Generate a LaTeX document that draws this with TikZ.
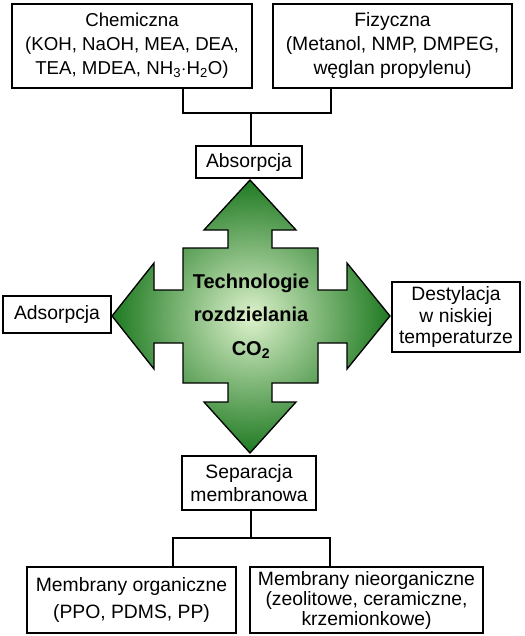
\documentclass[tikz,border=0pt]{standalone}
\usepackage{fontspec}
\setmainfont{Liberation Sans}
\usepackage{tikz}
\usetikzlibrary{positioning,calc}
\definecolor{crossdark}{HTML}{1F7A22}
\definecolor{crosslight}{HTML}{DDF2CC}

\begin{document}
\begin{tikzpicture}[
  x=0.75pt, y=-0.75pt,
  box/.style={draw=black, line width=1.5pt, fill=white, align=center, inner sep=0pt, font=\fontsize{14.5}{18}\selectfont},
  link/.style={draw=black, line width=1.5pt},
  core/.style={align=center, inner sep=0pt, font=\fontsize{15}{25}\selectfont\bfseries}
]
  \useasboundingbox (0,0) rectangle (525,636);

  % Central cross
  \path[draw=black, line width=1pt, shading=radial, inner color=crosslight, outer color=crossdark]
    (250,180) -- (296,230) -- (272,230) -- (272,248) -- (318,248) -- (318,290)
    -- (347,290) -- (347,263) -- (390,316) -- (347,369) -- (347,343) -- (318,343)
    -- (318,383) -- (272,383) -- (272,402) -- (296,402) -- (250,453) -- (204,402)
    -- (228,402) -- (228,383) -- (183,383) -- (183,343) -- (154,343) -- (154,369)
    -- (112,316) -- (154,263) -- (154,290) -- (183,290) -- (183,248) -- (228,248)
    -- (228,230) -- (204,230) -- cycle;
  \node[core] (tech) at (251,316) {Technologie\\rozdzielania\\CO\textsubscript{2}};

  % Boxes
  \node[box, minimum width=180pt, minimum height=63pt, font=\fontsize{14}{18}\selectfont] (chem) at (132,46)
    {Chemiczna\\(KOH, NaOH, MEA, DEA,\\TEA, MDEA, NH\textsubscript{3}$\cdot$H\textsubscript{2}O)};
  \node[box, minimum width=179pt, minimum height=63pt] (fiz) at (392.5,46)
    {Fizyczna\\(Metanol, NMP, DMPEG,\\węglan propylenu)};
  \node[box, minimum width=79pt, minimum height=24pt] (abs) at (249,162) {Absorpcja};
  \node[box, minimum width=81pt, minimum height=28pt] (ads) at (57,314.5) {Adsorpcja};
  \node[box, minimum width=96pt, minimum height=52.5pt, font=\fontsize{14.5}{16}\selectfont] (dest) at (456,317)
    {Destylacja\\w niskiej\\temperaturze};
  \node[box, minimum width=100.5pt, minimum height=40.5pt, font=\fontsize{14.5}{17}\selectfont] (sep) at (249,483)
    {Separacja\\membranowa};
  \node[box, minimum width=157pt, minimum height=49.5pt, font=\fontsize{14.5}{20}\selectfont] (org) at (131.5,600)
    {Membrany organiczne\\(PPO, PDMS, PP)};
  \node[box, minimum width=175pt, minimum height=49.5pt, font=\fontsize{14.5}{15}\selectfont] (inorg) at (366.5,600)
    {Membrany nieorganiczne\\(zeolitowe, ceramiczne,\\krzemionkowe)};

  % Tree links
  \coordinate (top) at (251,113);
  \coordinate (bot) at (251,538);
  \draw[link] (chem.south -| 183,0) |- (top) -| (fiz.south -| 331,0);
  \draw[link] (top) -- (abs.north -| top);
  \draw[link] (sep.south -| bot) -- (bot);
  \draw[link] (org.north -| 173,0) |- (bot) -| (inorg.north -| 330,0);
\end{tikzpicture}
\end{document}
